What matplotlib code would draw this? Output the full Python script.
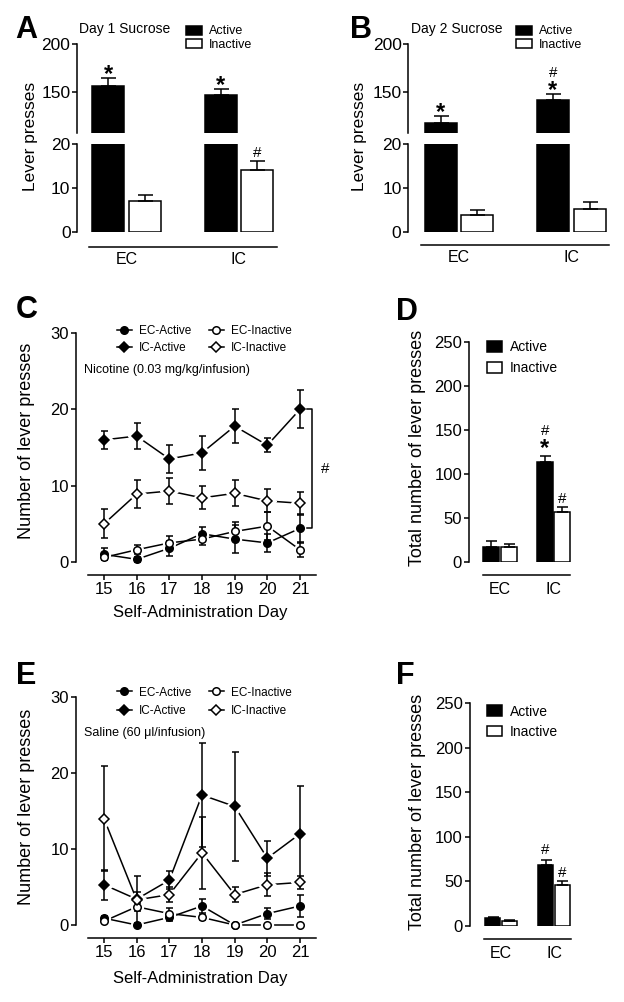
import matplotlib
matplotlib.use('Agg')
import matplotlib.pyplot as plt
from matplotlib.patches import Patch
from matplotlib.lines import Line2D
import numpy as np

plt.rcParams['font.family'] = ['Liberation Sans', 'DejaVu Sans']
plt.rcParams['mathtext.fontset'] = 'custom'
plt.rcParams['mathtext.rm'] = 'Liberation Sans'
plt.rcParams['mathtext.bf'] = 'Liberation Sans:bold'
plt.rcParams['mathtext.it'] = 'Liberation Sans:italic'

W, H, DPI = 624, 1002, 100
LW = 1.1

# ---------------- data ----------------
groups = ['EC', 'IC']
bar_labels = ['Active', 'Inactive']

# Panel A: Day 1 sucrose
a_active = [156, 147]
a_active_err = [8.0, 5.5]
a_inactive = [7.0, 14.0]
a_inactive_err = [1.3, 2.1]
a_active_sig = ['*', '*']
a_inactive_sig = ['', '#']

# Panel B: Day 2 sucrose
b_active = [117, 142]
b_active_err = [7.5, 6.0]
b_inactive = [3.9, 5.2]
b_inactive_err = [1.0, 1.5]
b_active_sig = ['*', '*#']
b_inactive_sig = ['', '']

# Panel C: nicotine self-administration
days = [15, 16, 17, 18, 19, 20, 21]
line_labels = ['EC-Active', 'IC-Active', 'EC-Inactive', 'IC-Inactive']
c_ec_active = [1.0, 0.35, 1.8, 3.7, 3.0, 2.5, 4.4]
c_ec_active_err = [0.8, 0.3, 1.0, 0.9, 1.8, 1.2, 1.85]
c_ic_active = [16.0, 16.5, 13.5, 14.3, 17.8, 15.3, 20.0]
c_ic_active_err = [1.2, 1.7, 1.8, 2.25, 2.25, 0.9, 2.5]
c_ec_inactive = [0.6, 1.6, 2.5, 3.0, 4.0, 4.7, 1.6]
c_ec_inactive_err = [0.4, 0.6, 0.85, 0.8, 1.2, 1.8, 1.0]
c_ic_inactive = [5.0, 8.9, 9.3, 8.4, 9.0, 8.0, 7.7]
c_ic_inactive_err = [1.9, 1.8, 1.65, 1.5, 1.7, 1.5, 1.5]

# Panel D: nicotine totals
d_active = [17, 114]
d_active_err = [7.0, 7.0]
d_inactive = [17, 56.5]
d_inactive_err = [3.0, 6.5]
d_active_sig = ['', '*#']
d_inactive_sig = ['', '#']

# Panel E: saline self-administration
e_ec_active = [0.9, 0.0, 1.0, 2.5, 0.0, 1.5, 2.5]
e_ec_active_err = [0.3, 0.0, 0.5, 0.9, 0.0, 0.75, 1.45]
e_ic_active = [5.3, 3.4, 5.9, 17.1, 15.6, 8.8, 12.0]
e_ic_active_err = [1.95, 3.1, 1.2, 6.9, 7.2, 2.3, 6.3]
e_ec_inactive = [0.5, 2.4, 1.5, 1.0, 0.0, 0.0, 0.0]
e_ec_inactive_err = [0.3, 0.5, 0.8, 0.3, 0.0, 0.0, 0.0]
e_ic_inactive = [14.0, 3.3, 4.0, 9.5, 4.0, 5.3, 5.6]
e_ic_inactive_err = [6.9, 1.0, 1.0, 4.7, 1.0, 1.5, 0.9]

# Panel F: saline totals
f_active = [9.0, 68]
f_active_err = [1.0, 6.0]
f_inactive = [5.5, 45.5]
f_inactive_err = [1.0, 5.2]
f_active_sig = ['', '#']
f_inactive_sig = ['', '#']

# ---------------- helpers ----------------
fig = plt.figure(figsize=(W / DPI, H / DPI), dpi=DPI)


def rect(l, t, r, b):
    return [l / W, 1 - b / H, (r - l) / W, (b - t) / H]


def pt(p):
    return p * 72 / DPI


def fx(x):
    return x / W


def fy(y):
    return 1 - y / H


def clean(ax, labelsize=12):
    for s in ('top', 'right'):
        ax.spines[s].set_visible(False)
    for s in ('left', 'bottom'):
        ax.spines[s].set_linewidth(LW)
    ax.tick_params(width=LW, length=pt(5), color='k', labelcolor='k',
                   labelsize=labelsize)


def put_sig(ax, x, top, sig, first=9, step=15):
    stacked = len(sig) > 1
    off = first
    for ch in sig:
        if ch == '*':
            fs, frac, wt = 17, 0.42, 'bold'
            txt = r'$\mathbf{*}$' if stacked else '*'
        else:
            fs, frac, wt = 11, 0.36, 'normal'
            txt = r'$\#$' if stacked else '#'
        fs_px = fs * DPI / 72
        ax.annotate(txt, xy=(x, top), xytext=(0, pt(off - frac * fs_px)),
                    textcoords='offset points', ha='center', va='baseline',
                    fontsize=fs, fontweight=wt, annotation_clip=False)
        off += step


def bars(ax, xs, vals, errs, face, width, cap):
    ax.bar(xs, vals, width=width, color=face, edgecolor='k', linewidth=LW,
           zorder=2)
    ax.errorbar(xs, vals, yerr=[np.zeros(len(vals)), errs], fmt='none',
                ecolor='k', elinewidth=LW, capsize=pt(cap), capthick=LW,
                zorder=3)


def bar_legend(ax, x_px, top_px, fs, hl, hh, ls, tp):
    handles = [Patch(facecolor='k', edgecolor='k', linewidth=LW),
               Patch(facecolor='w', edgecolor='k', linewidth=LW)]
    ax.legend(handles, bar_labels, loc='upper left',
              bbox_to_anchor=(fx(x_px), fy(top_px)),
              bbox_transform=fig.transFigure, frameon=False, fontsize=fs,
              handlelength=hl, handleheight=hh, labelspacing=ls,
              handletextpad=tp, borderpad=0, borderaxespad=0)


LETTER_FS = 22

# ---------------- panels A & B (broken axis) ----------------
broken = [
    dict(letter='A', lx=15, title='Day 1 Sucrose', tx=79, yl_x=30,
         left=77, right=284, xc=126.5, line_y=247, lb=(89, 277), legx=186,
         act=a_active, act_e=a_active_err, ina=a_inactive,
         ina_e=a_inactive_err, act_s=a_active_sig, ina_s=a_inactive_sig),
    dict(letter='B', lx=350, title='Day 2 Sucrose', tx=411, yl_x=360,
         left=408, right=615, xc=459, line_y=245, lb=(421, 609), legx=516,
         act=b_active, act_e=b_active_err, ina=b_inactive,
         ina_e=b_inactive_err, act_s=b_active_sig, ina_s=b_inactive_sig),
]
SP = 112.5
for p in broken:
    xl = ((p['left'] - p['xc']) / SP, (p['right'] - p['xc']) / SP)
    up = fig.add_axes(rect(p['left'], 44, p['right'], 133))
    lo = fig.add_axes(rect(p['left'], 143.5, p['right'], 232))
    x = np.arange(len(groups))
    off, wd = 0.164, 0.284
    for ax in (up, lo):
        clean(ax, 12.5)
        ax.set_xlim(*xl)
        bars(ax, x - off, p['act'], p['act_e'], 'k', wd, 7.5)
        bars(ax, x + off, p['ina'], p['ina_e'], 'w', wd, 7.5)
        ax.tick_params(axis='y', pad=pt(1.5))
    up.set_ylim(107, 200)
    up.set_yticks([150, 200])
    up.spines['bottom'].set_visible(False)
    up.tick_params(axis='x', bottom=False, labelbottom=False)
    lo.set_ylim(0, 20)
    lo.set_yticks([0, 10, 20])
    lo.spines['bottom'].set_position(('outward', pt(p['line_y'] - 232)))
    lo.spines['bottom'].set_bounds((p['lb'][0] - p['xc']) / SP,
                                   (p['lb'][1] - p['xc']) / SP)
    lo.set_xticks(x)
    lo.set_xticklabels(groups)
    lo.tick_params(axis='x', length=0, pad=pt(5), labelsize=11.5)
    for i in range(len(groups)):
        ax_a = up if p['act'][i] > 20 else lo
        put_sig(ax_a, x[i] - off, p['act'][i] + p['act_e'][i], p['act_s'][i],
                first=7.5, step=15)
        ax_i = up if p['ina'][i] > 20 else lo
        put_sig(ax_i, x[i] + off, p['ina'][i] + p['ina_e'][i], p['ina_s'][i],
                first=9, step=15)
    fig.text(fx(p['tx']), fy(29), p['title'], fontsize=10, ha='left',
             va='center')
    bar_legend(up, p['legx'], 25.5, 9, 1.28, 0.7, 0.08, 0.56)
    fig.text(fx(p['yl_x']), fy(136), 'Lever presses', rotation=90,
             ha='center', va='center', fontsize=12.5)
    fig.text(fx(p['lx']), fy(38), p['letter'], fontsize=LETTER_FS,
             fontweight='bold', ha='left', va='baseline')


# ---------------- panels C & E (lines) ----------------
def line_panel(top, bottom, series, leg_top, leg_ls, note, note_y, letter,
               letter_y, yl_y, xl_y):
    ax = fig.add_axes(rect(76, top, 330, bottom))
    clean(ax, 12)
    sp = 196 / 6.0
    ax.set_xlim(15 - 28 / sp, 21 + 30 / sp)
    ax.set_ylim(0, 30)
    ax.set_yticks([0, 10, 20, 30])
    ax.set_xticks(days)
    ax.spines['bottom'].set_position(('outward', pt(13)))
    ax.spines['bottom'].set_bounds(15 - 16 / sp, 21 + 16 / sp)
    ax.tick_params(axis='y', pad=pt(2))
    ax.tick_params(axis='x', pad=pt(2))
    for vals, errs, mk, face, ms in series:
        ax.plot(days, vals, color='k', lw=LW, zorder=1, clip_on=False)
    for vals, errs, mk, face, ms in series:
        ax.plot(days, vals, ls='none', marker=mk, ms=ms + 3.2, mfc='w',
                mec='w', zorder=2, clip_on=False)
    for vals, errs, mk, face, ms in series:
        ax.errorbar(days, vals, yerr=errs, fmt='none', ecolor='k',
                    elinewidth=LW, capsize=pt(3.5), capthick=LW, zorder=3,
                    clip_on=False)
    for vals, errs, mk, face, ms in series:
        ax.plot(days, vals, ls='none', marker=mk, ms=ms, mfc=face, mec='k',
                mew=LW, zorder=4, clip_on=False)
    handles = [Line2D([], [], color='k', lw=LW, marker=mk, ms=ms, mfc=face,
                      mec='k', mew=LW) for vals, errs, mk, face, ms in series]
    ax.legend(handles, line_labels, ncol=2, loc='upper left',
              bbox_to_anchor=(fx(116.7), fy(leg_top)),
              bbox_transform=fig.transFigure, frameon=False, fontsize=8.5,
              handlelength=1.27, handletextpad=0.6, columnspacing=1.5,
              labelspacing=leg_ls, borderpad=0, borderaxespad=0)
    fig.text(fx(84), fy(note_y), note, fontsize=9, ha='left', va='center')
    fig.text(fx(16), fy(letter_y), letter, fontsize=LETTER_FS,
             fontweight='bold', ha='left', va='baseline')
    fig.text(fx(27), fy(yl_y), 'Number of lever presses', rotation=90,
             ha='center', va='center', fontsize=13)
    fig.text(fx(200), fy(xl_y), 'Self-Administration Day', ha='center',
             va='center', fontsize=12)
    return ax


MS_O, MS_D = 5.4, 5.6
axC = line_panel(333, 562, [
    (c_ec_active, c_ec_active_err, 'o', 'k', MS_O),
    (c_ic_active, c_ic_active_err, 'D', 'k', MS_D),
    (c_ec_inactive, c_ec_inactive_err, 'o', 'w', MS_O),
    (c_ic_inactive, c_ic_inactive_err, 'D', 'w', MS_D)],
    325.5, 0.42, 'Nicotine (0.03 mg/kg/infusion)', 370, 'C', 318, 441, 613)
# bracket between IC-Active and EC-Active on the last day
btop, bbot = c_ic_active[-1], c_ec_active[-1]
bx = 21 + 12 / (196 / 6.0)
tick = 5 / (196 / 6.0)
axC.plot([bx - tick, bx, bx, bx - tick], [btop, btop, bbot, bbot], color='k',
         lw=LW, clip_on=False)
axC.text(21 + 25 / (196 / 6.0), (btop + bbot) / 2, '#', fontsize=11,
         ha='center', va='center')

line_panel(697, 925, [
    (e_ec_active, e_ec_active_err, 'o', 'k', MS_O),
    (e_ic_active, e_ic_active_err, 'D', 'k', MS_D),
    (e_ec_inactive, e_ec_inactive_err, 'o', 'w', MS_O),
    (e_ic_inactive, e_ic_inactive_err, 'D', 'w', MS_D)],
    686.5, 0.59, 'Saline (60 \u03bcl/infusion)', 733, 'E', 684, 807, 978)


# ---------------- panels D & F (totals) ----------------
def total_panel(left, top, bottom, xc, sp, lb, act, act_e, ina, ina_e, act_s,
                ina_s, leg_top, leg_ls, letter, letter_y, yl_y):
    ax = fig.add_axes(rect(left, top, 600, bottom))
    clean(ax, 12)
    ax.set_xlim((left - xc) / sp, (600 - xc) / sp)
    ax.set_ylim(0, 250)
    ax.set_yticks([0, 50, 100, 150, 200, 250])
    x = np.arange(len(groups))
    off, wd = 0.16, 0.30
    bars(ax, x - off, act, act_e, 'k', wd, 5.5)
    bars(ax, x + off, ina, ina_e, 'w', wd, 5.5)
    ax.spines['bottom'].set_position(('outward', pt(13)))
    ax.spines['bottom'].set_bounds((lb[0] - xc) / sp, (lb[1] - xc) / sp)
    ax.set_xticks(x)
    ax.set_xticklabels(groups)
    ax.tick_params(axis='x', length=0, pad=pt(7), labelsize=11.5)
    ax.tick_params(axis='y', pad=pt(2))
    for i in range(len(groups)):
        put_sig(ax, x[i] - off, act[i] + act_e[i], act_s[i], first=11,
                step=15)
        put_sig(ax, x[i] + off, ina[i] + ina_e[i], ina_s[i], first=9.5,
                step=15)
    bar_legend(ax, 487, leg_top, 10, 1.08, 0.79, leg_ls, 0.55)
    fig.text(fx(396), fy(letter_y), letter, fontsize=LETTER_FS,
             fontweight='bold', ha='left', va='baseline')
    fig.text(fx(417), fy(yl_y), 'Total number of lever presses', rotation=90,
             ha='center', va='center', fontsize=13)


total_panel(469, 342, 562, 500, 53.5, (483, 570), d_active, d_active_err,
            d_inactive, d_inactive_err, d_active_sig, d_inactive_sig,
            340.5, 0.5, 'D', 320, 448)
total_panel(470, 703, 926, 501, 53, (484, 571), f_active, f_active_err,
            f_inactive, f_inactive_err, f_active_sig, f_inactive_sig,
            704.5, 0.45, 'F', 684, 812)

fig.savefig('out.png', dpi=DPI)
